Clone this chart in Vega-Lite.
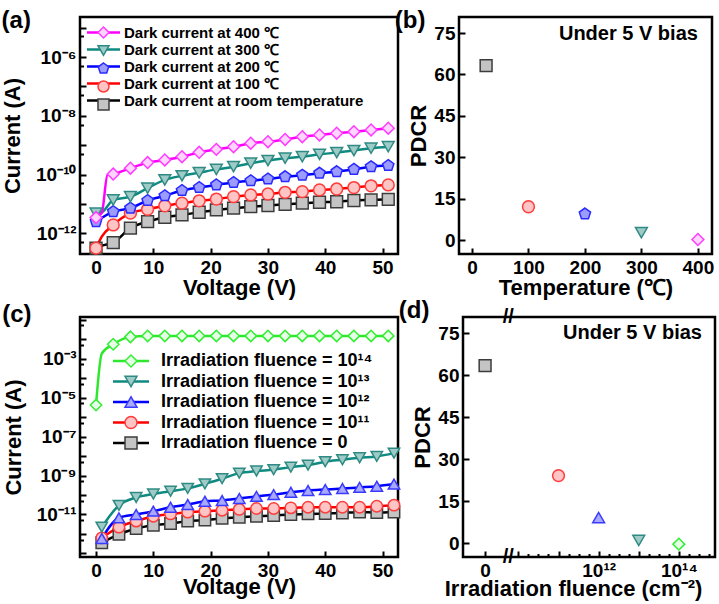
{
  "$schema": "https://vega.github.io/schema/vega-lite/v6.json",
  "padding": {"left": 0, "top": 7, "right": 0, "bottom": 0},
  "background": "white",
  "config": {
    "font": "Liberation Sans",
    "view": {"stroke": "#000", "strokeWidth": 2.5},
    "axis": {"domain": false, "grid": false, "labelFont": "Liberation Sans", "labelFontWeight": "bold", "labelFontSize": 19, "labelColor": "#000", "titleFont": "Liberation Sans", "titleFontSize": 22, "titleFontWeight": "bold", "titleColor": "#000", "tickColor": "#000", "tickWidth": 2, "labelFlush": false, "labelOverlap": false},
    "axisX": {"labelPadding": 10, "titlePadding": 0},
    "axisY": {"labelPadding": 10, "titlePadding": 3},
    "title": {"font": "Liberation Sans", "fontSize": 24, "fontWeight": "bold", "color": "#000", "anchor": "start", "frame": "bounds", "baseline": "alphabetic", "offset": -16},
    "legend": {"labelFont": "Liberation Sans", "labelFontWeight": "bold", "labelColor": "#000", "padding": 0, "title": null, "labelLimit": 0}
  },
  "datasets": {
    "a": [
      {"s": "room temperature", "V": 0, "I": 3.16e-13}, {"s": "room temperature", "V": 1, "I": 3.8e-13}, {"s": "room temperature", "V": 3, "I": 4.9e-13}, {"s": "room temperature", "V": 6, "I": 1.51e-12}, {"s": "room temperature", "V": 9, "I": 2.51e-12}, {"s": "room temperature", "V": 12, "I": 3.55e-12}, {"s": "room temperature", "V": 15, "I": 4.27e-12}, {"s": "room temperature", "V": 18, "I": 5.25e-12}, {"s": "room temperature", "V": 21, "I": 6.31e-12}, {"s": "room temperature", "V": 24, "I": 7.24e-12}, {"s": "room temperature", "V": 27, "I": 8.13e-12}, {"s": "room temperature", "V": 30, "I": 8.91e-12}, {"s": "room temperature", "V": 33, "I": 9.77e-12}, {"s": "room temperature", "V": 36, "I": 1.07e-11}, {"s": "room temperature", "V": 39, "I": 1.15e-11}, {"s": "room temperature", "V": 42, "I": 1.2e-11}, {"s": "room temperature", "V": 45, "I": 1.32e-11}, {"s": "room temperature", "V": 48, "I": 1.38e-11}, {"s": "room temperature", "V": 51, "I": 1.45e-11},
      {"s": "100 ℃", "V": 0, "I": 3.16e-13}, {"s": "100 ℃", "V": 1, "I": 7.76e-13}, {"s": "100 ℃", "V": 3, "I": 1.95e-12}, {"s": "100 ℃", "V": 6, "I": 4.9e-12}, {"s": "100 ℃", "V": 9, "I": 6.61e-12}, {"s": "100 ℃", "V": 12, "I": 8.71e-12}, {"s": "100 ℃", "V": 15, "I": 1.07e-11}, {"s": "100 ℃", "V": 18, "I": 1.29e-11}, {"s": "100 ℃", "V": 21, "I": 1.48e-11}, {"s": "100 ℃", "V": 24, "I": 1.78e-11}, {"s": "100 ℃", "V": 27, "I": 2.04e-11}, {"s": "100 ℃", "V": 30, "I": 2.19e-11}, {"s": "100 ℃", "V": 33, "I": 2.51e-11}, {"s": "100 ℃", "V": 36, "I": 2.63e-11}, {"s": "100 ℃", "V": 39, "I": 3.02e-11}, {"s": "100 ℃", "V": 42, "I": 3.24e-11}, {"s": "100 ℃", "V": 45, "I": 3.63e-11}, {"s": "100 ℃", "V": 48, "I": 4.17e-11}, {"s": "100 ℃", "V": 51, "I": 4.47e-11},
      {"s": "200 ℃", "V": 0, "I": 2.51e-12}, {"s": "200 ℃", "V": 3, "I": 5.5e-12}, {"s": "200 ℃", "V": 6, "I": 7.24e-12}, {"s": "200 ℃", "V": 9, "I": 1.32e-11}, {"s": "200 ℃", "V": 12, "I": 1.91e-11}, {"s": "200 ℃", "V": 15, "I": 2.88e-11}, {"s": "200 ℃", "V": 18, "I": 3.63e-11}, {"s": "200 ℃", "V": 21, "I": 4.47e-11}, {"s": "200 ℃", "V": 24, "I": 5.37e-11}, {"s": "200 ℃", "V": 27, "I": 6.17e-11}, {"s": "200 ℃", "V": 30, "I": 7.08e-11}, {"s": "200 ℃", "V": 33, "I": 8.51e-11}, {"s": "200 ℃", "V": 36, "I": 9.55e-11}, {"s": "200 ℃", "V": 39, "I": 1.12e-10}, {"s": "200 ℃", "V": 42, "I": 1.26e-10}, {"s": "200 ℃", "V": 45, "I": 1.51e-10}, {"s": "200 ℃", "V": 48, "I": 1.86e-10}, {"s": "200 ℃", "V": 51, "I": 2.04e-10},
      {"s": "300 ℃", "V": 0, "I": 4.9e-12}, {"s": "300 ℃", "V": 1, "I": 5.25e-12}, {"s": "300 ℃", "V": 3, "I": 1.38e-11}, {"s": "300 ℃", "V": 6, "I": 1.78e-11}, {"s": "300 ℃", "V": 9, "I": 3.47e-11}, {"s": "300 ℃", "V": 12, "I": 6.61e-11}, {"s": "300 ℃", "V": 15, "I": 9.12e-11}, {"s": "300 ℃", "V": 18, "I": 1.17e-10}, {"s": "300 ℃", "V": 21, "I": 1.51e-10}, {"s": "300 ℃", "V": 24, "I": 1.86e-10}, {"s": "300 ℃", "V": 27, "I": 2.45e-10}, {"s": "300 ℃", "V": 30, "I": 3.02e-10}, {"s": "300 ℃", "V": 33, "I": 3.63e-10}, {"s": "300 ℃", "V": 36, "I": 4.07e-10}, {"s": "300 ℃", "V": 39, "I": 4.9e-10}, {"s": "300 ℃", "V": 42, "I": 5.62e-10}, {"s": "300 ℃", "V": 45, "I": 6.61e-10}, {"s": "300 ℃", "V": 48, "I": 7.94e-10}, {"s": "300 ℃", "V": 51, "I": 8.91e-10},
      {"s": "400 ℃", "V": 0, "I": 3.47e-12}, {"s": "400 ℃", "V": 1, "I": 5.0e-12}, {"s": "400 ℃", "V": 2, "I": 9.8e-11}, {"s": "400 ℃", "V": 3, "I": 1.05e-10}, {"s": "400 ℃", "V": 6, "I": 1.66e-10}, {"s": "400 ℃", "V": 9, "I": 2.57e-10}, {"s": "400 ℃", "V": 12, "I": 3.16e-10}, {"s": "400 ℃", "V": 15, "I": 4.07e-10}, {"s": "400 ℃", "V": 18, "I": 5.75e-10}, {"s": "400 ℃", "V": 21, "I": 7.24e-10}, {"s": "400 ℃", "V": 24, "I": 8.91e-10}, {"s": "400 ℃", "V": 27, "I": 1.17e-9}, {"s": "400 ℃", "V": 30, "I": 1.32e-9}, {"s": "400 ℃", "V": 33, "I": 1.58e-9}, {"s": "400 ℃", "V": 36, "I": 1.95e-9}, {"s": "400 ℃", "V": 39, "I": 2.24e-9}, {"s": "400 ℃", "V": 42, "I": 2.57e-9}, {"s": "400 ℃", "V": 45, "I": 2.88e-9}, {"s": "400 ℃", "V": 48, "I": 3.31e-9}, {"s": "400 ℃", "V": 51, "I": 3.8e-9}
    ],
    "b": [
      {"s": "room temperature", "T": 25, "PDCR": 63.2}, {"s": "100 ℃", "T": 100, "PDCR": 12.1}, {"s": "200 ℃", "T": 200, "PDCR": 9.5}, {"s": "300 ℃", "T": 300, "PDCR": 2.7}, {"s": "400 ℃", "T": 400, "PDCR": 0.25}
    ],
    "c": [
      {"s": "0", "V": 1, "I": 3.55e-13}, {"s": "0", "V": 4, "I": 9.5e-13}, {"s": "0", "V": 7, "I": 1.91e-12}, {"s": "0", "V": 10, "I": 2.82e-12}, {"s": "0", "V": 13, "I": 3.47e-12}, {"s": "0", "V": 16, "I": 4.57e-12}, {"s": "0", "V": 19, "I": 5.13e-12}, {"s": "0", "V": 22, "I": 6.31e-12}, {"s": "0", "V": 25, "I": 7.24e-12}, {"s": "0", "V": 28, "I": 8.13e-12}, {"s": "0", "V": 31, "I": 8.91e-12}, {"s": "0", "V": 34, "I": 1.0e-11}, {"s": "0", "V": 37, "I": 1.07e-11}, {"s": "0", "V": 40, "I": 1.12e-11}, {"s": "0", "V": 43, "I": 1.2e-11}, {"s": "0", "V": 46, "I": 1.32e-11}, {"s": "0", "V": 49, "I": 1.25e-11}, {"s": "0", "V": 52, "I": 1.35e-11},
      {"s": "10¹¹", "V": 1, "I": 6.3e-13}, {"s": "10¹¹", "V": 4, "I": 2.24e-12}, {"s": "10¹¹", "V": 7, "I": 4.57e-12}, {"s": "10¹¹", "V": 10, "I": 8.13e-12}, {"s": "10¹¹", "V": 13, "I": 1.07e-11}, {"s": "10¹¹", "V": 16, "I": 1.32e-11}, {"s": "10¹¹", "V": 19, "I": 1.48e-11}, {"s": "10¹¹", "V": 22, "I": 1.66e-11}, {"s": "10¹¹", "V": 25, "I": 1.82e-11}, {"s": "10¹¹", "V": 28, "I": 2.04e-11}, {"s": "10¹¹", "V": 31, "I": 2.04e-11}, {"s": "10¹¹", "V": 34, "I": 2.19e-11}, {"s": "10¹¹", "V": 37, "I": 2.34e-11}, {"s": "10¹¹", "V": 40, "I": 2.34e-11}, {"s": "10¹¹", "V": 43, "I": 2.34e-11}, {"s": "10¹¹", "V": 46, "I": 2.34e-11}, {"s": "10¹¹", "V": 49, "I": 2.63e-11}, {"s": "10¹¹", "V": 52, "I": 3.02e-11},
      {"s": "10¹²", "V": 1, "I": 5.9e-13}, {"s": "10¹²", "V": 4, "I": 6.7e-12}, {"s": "10¹²", "V": 7, "I": 1.0e-11}, {"s": "10¹²", "V": 10, "I": 1.48e-11}, {"s": "10¹²", "V": 13, "I": 2.34e-11}, {"s": "10¹²", "V": 16, "I": 3.24e-11}, {"s": "10¹²", "V": 19, "I": 4.79e-11}, {"s": "10¹²", "V": 22, "I": 5.25e-11}, {"s": "10¹²", "V": 25, "I": 6.61e-11}, {"s": "10¹²", "V": 28, "I": 8.51e-11}, {"s": "10¹²", "V": 31, "I": 1.05e-10}, {"s": "10¹²", "V": 34, "I": 1.38e-10}, {"s": "10¹²", "V": 37, "I": 1.7e-10}, {"s": "10¹²", "V": 40, "I": 1.91e-10}, {"s": "10¹²", "V": 43, "I": 2.14e-10}, {"s": "10¹²", "V": 46, "I": 2.45e-10}, {"s": "10¹²", "V": 49, "I": 2.82e-10}, {"s": "10¹²", "V": 52, "I": 3.63e-10},
      {"s": "10¹³", "V": 1, "I": 2.24e-12}, {"s": "10¹³", "V": 4, "I": 2.95e-11}, {"s": "10¹³", "V": 7, "I": 7.4e-11}, {"s": "10¹³", "V": 10, "I": 1.12e-10}, {"s": "10¹³", "V": 13, "I": 1.55e-10}, {"s": "10¹³", "V": 16, "I": 2.19e-10}, {"s": "10¹³", "V": 19, "I": 3.72e-10}, {"s": "10¹³", "V": 22, "I": 6.9e-10}, {"s": "10¹³", "V": 25, "I": 1.32e-9}, {"s": "10¹³", "V": 28, "I": 1.7e-9}, {"s": "10¹³", "V": 31, "I": 2.0e-9}, {"s": "10¹³", "V": 34, "I": 2.69e-9}, {"s": "10¹³", "V": 37, "I": 3.39e-9}, {"s": "10¹³", "V": 40, "I": 5.13e-9}, {"s": "10¹³", "V": 43, "I": 6.46e-9}, {"s": "10¹³", "V": 46, "I": 8.13e-9}, {"s": "10¹³", "V": 49, "I": 9.55e-9}, {"s": "10¹³", "V": 52, "I": 1.41e-8},
      {"s": "10¹⁴", "V": 0, "I": 4.1e-6}, {"s": "10¹⁴", "V": 1, "I": 1.78e-3}, {"s": "10¹⁴", "V": 3, "I": 5.4e-3}, {"s": "10¹⁴", "V": 6, "I": 0.0129}, {"s": "10¹⁴", "V": 9, "I": 0.0144}, {"s": "10¹⁴", "V": 12, "I": 0.0145}, {"s": "10¹⁴", "V": 15, "I": 0.0145}, {"s": "10¹⁴", "V": 18, "I": 0.0145}, {"s": "10¹⁴", "V": 21, "I": 0.0145}, {"s": "10¹⁴", "V": 24, "I": 0.0145}, {"s": "10¹⁴", "V": 27, "I": 0.0145}, {"s": "10¹⁴", "V": 30, "I": 0.0145}, {"s": "10¹⁴", "V": 33, "I": 0.0145}, {"s": "10¹⁴", "V": 36, "I": 0.0145}, {"s": "10¹⁴", "V": 39, "I": 0.0145}, {"s": "10¹⁴", "V": 42, "I": 0.0145}, {"s": "10¹⁴", "V": 45, "I": 0.0145}, {"s": "10¹⁴", "V": 48, "I": 0.0145}, {"s": "10¹⁴", "V": 51, "I": 0.0145}
    ],
    "d": [
      {"s": "0", "F": 0, "PDCR": 63.4}, {"s": "10¹¹", "F": 1e11, "PDCR": 24.1}, {"s": "10¹²", "F": 1e12, "PDCR": 9.1}, {"s": "10¹³", "F": 1e13, "PDCR": 0.9}, {"s": "10¹⁴", "F": 1e14, "PDCR": -0.4}
    ]
  },
  "spacing": -3,
  "resolve": {"scale": {"color": "independent", "shape": "independent", "fill": "independent", "stroke": "independent"}, "legend": {"color": "independent", "shape": "independent", "fill": "independent", "stroke": "independent"}},
  "vconcat": [
    {
      "spacing": -7,
      "resolve": {"scale": {"color": "independent", "shape": "independent", "fill": "independent", "stroke": "independent"}, "legend": {"color": "independent", "shape": "independent", "fill": "independent", "stroke": "independent"}},
      "hconcat": [
        {
          "width": 318, "height": 237,
          "title": {"text": "(a)"},
          "data": {"name": "a"},
          "layer": [
            {
              "mark": {"type": "line", "interpolate": "monotone", "strokeWidth": 2.5},
              "encoding": {
                "x": {"field": "V", "type": "quantitative", "scale": {"domain": [-2.8, 52.7], "nice": false, "zero": false},
                  "axis": {"title": "Voltage (V)", "values": [0, 5, 10, 15, 20, 25, 30, 35, 40, 45, 50], "labelExpr": "datum.value % 10 === 0 ? datum.label : ''", "tickSize": {"condition": {"test": "datum.value % 10 === 0", "value": -6}, "value": -3.5}}},
                "y": {"field": "I", "type": "quantitative", "scale": {"type": "log", "domain": [2.0e-13, 2.3e-5], "nice": false},
                  "axis": {"title": "Current (A)", "titlePadding": 11, "values": [5e-13, 1e-12, 5e-12, 1e-11, 5e-11, 1e-10, 5e-10, 1e-9, 5e-9, 1e-8, 5e-8, 1e-7, 5e-7, 1e-6, 5e-6, 1e-5],
                    "labelExpr": "datum.value === 1e-6 ? '10⁻⁶' : datum.value === 1e-8 ? '10⁻⁸' : datum.value === 1e-10 ? '10⁻¹⁰' : datum.value === 1e-12 ? '10⁻¹²' : ''",
                    "tickSize": {"condition": {"test": "abs(log(datum.value)/LN10 - round(log(datum.value)/LN10)) < 0.01", "value": -6}, "value": -3.5}}},
                "color": {"field": "s", "type": "nominal",
                  "scale": {"domain": ["room temperature", "100 ℃", "200 ℃", "300 ℃", "400 ℃"], "range": ["#000000", "#ff0000", "#0000ff", "#0f8a80", "#ff00ff"]},
                  "legend": {"orient": "none", "legendX": 16, "legendY": 8, "values": ["400 ℃", "300 ℃", "200 ℃", "100 ℃", "room temperature"], "symbolType": "M-3,0L3,0", "symbolSize": 121, "symbolStrokeWidth": 2.5, "labelFontSize": 15, "labelOffset": 13, "rowPadding": 1, "zindex": 0, "labelExpr": "'Dark current at ' + datum.label"}}
              }
            },
            {
              "transform": [{"filter": "datum.V % 3 === 0"}],
              "mark": {"type": "point", "filled": true, "opacity": 1, "size": 140, "strokeWidth": 1.5},
              "encoding": {
                "x": {"field": "V", "type": "quantitative"},
                "y": {"field": "I", "type": "quantitative"},
                "shape": {"field": "s", "type": "nominal",
                  "scale": {"domain": ["400 ℃", "300 ℃", "200 ℃", "100 ℃", "room temperature"], "range": ["diamond", "triangle-down", "M0,-1L0.951,-0.309L0.588,0.809L-0.588,0.809L-0.951,-0.309Z", "circle", "square"]},
                  "legend": {"orient": "none", "legendX": 16, "legendY": 8, "symbolSize": 121, "symbolStrokeWidth": 1.5, "labelFontSize": 15, "labelOffset": 13, "rowPadding": 1, "zindex": 1, "labelExpr": "''"}},
                "fill": {"field": "s", "type": "nominal",
                  "scale": {"domain": ["400 ℃", "300 ℃", "200 ℃", "100 ℃", "room temperature"], "range": ["#ffd4ff", "#9fcbc7", "#9c9cff", "#ffc4c4", "#c4c4c4"]},
                  "legend": {"orient": "none", "legendX": 16, "legendY": 8, "symbolSize": 121, "symbolStrokeWidth": 1.5, "labelFontSize": 15, "labelOffset": 13, "rowPadding": 1, "zindex": 1, "labelExpr": "''"}},
                "stroke": {"field": "s", "type": "nominal",
                  "scale": {"domain": ["400 ℃", "300 ℃", "200 ℃", "100 ℃", "room temperature"], "range": ["#ff3cff", "#2f8a84", "#2a2aff", "#ff3c3c", "#3c3c3c"]},
                  "legend": {"orient": "none", "legendX": 16, "legendY": 8, "symbolSize": 121, "symbolStrokeWidth": 1.5, "labelFontSize": 15, "labelOffset": 13, "rowPadding": 1, "zindex": 1, "labelExpr": "''"}}
              }
            }
          ]
        },
        {
          "width": 253, "height": 237,
          "title": {"text": "(b)", "dx": -13},
          "layer": [
            {
              "data": {"name": "b"},
              "mark": {"type": "point", "filled": true, "opacity": 1, "size": 140, "strokeWidth": 1.5},
              "encoding": {
                "x": {"field": "T", "type": "quantitative", "scale": {"domain": [-23, 425], "nice": false, "zero": false},
                  "axis": {"title": "Temperature (℃)", "values": [0, 100, 200, 300, 400], "tickSize": -6}},
                "y": {"field": "PDCR", "type": "quantitative", "scale": {"domain": [-5, 80.8], "nice": false, "zero": false},
                  "axis": {"title": "PDCR", "values": [0, 7.5, 15, 22.5, 30, 37.5, 45, 52.5, 60, 67.5, 75], "labelExpr": "datum.value % 15 === 0 ? datum.label : ''", "tickSize": {"condition": {"test": "datum.value % 15 === 0", "value": -6}, "value": -3.5}}},
                "shape": {"field": "s", "type": "nominal", "scale": {"domain": ["400 ℃", "300 ℃", "200 ℃", "100 ℃", "room temperature"], "range": ["diamond", "triangle-down", "M0,-1L0.951,-0.309L0.588,0.809L-0.588,0.809L-0.951,-0.309Z", "circle", "square"]}, "legend": null},
                "fill": {"field": "s", "type": "nominal", "scale": {"domain": ["400 ℃", "300 ℃", "200 ℃", "100 ℃", "room temperature"], "range": ["#ffd4ff", "#9fcbc7", "#9c9cff", "#ffc4c4", "#c4c4c4"]}, "legend": null},
                "stroke": {"field": "s", "type": "nominal", "scale": {"domain": ["400 ℃", "300 ℃", "200 ℃", "100 ℃", "room temperature"], "range": ["#ff3cff", "#2f8a84", "#2a2aff", "#ff3c3c", "#3c3c3c"]}, "legend": null}
              }
            },
            {
              "data": {"values": [{}]},
              "mark": {"type": "text", "align": "right", "baseline": "alphabetic", "font": "Liberation Sans", "fontSize": 20, "fontWeight": "bold", "color": "#000"},
              "encoding": {"x": {"datum": 400, "type": "quantitative"}, "y": {"datum": 72.6, "type": "quantitative"}, "text": {"value": "Under 5 V bias"}}
            }
          ]
        }
      ]
    },
    {
      "spacing": -7,
      "resolve": {"scale": {"color": "independent", "shape": "independent", "fill": "independent", "stroke": "independent"}, "legend": {"color": "independent", "shape": "independent", "fill": "independent", "stroke": "independent"}},
      "hconcat": [
        {
          "width": 318, "height": 240,
          "title": {"text": "(c)"},
          "data": {"name": "c"},
          "layer": [
            {
              "mark": {"type": "line", "interpolate": "monotone", "strokeWidth": 2.5},
              "encoding": {
                "x": {"field": "V", "type": "quantitative", "scale": {"domain": [-2.8, 52.7], "nice": false, "zero": false},
                  "axis": {"title": "Voltage (V)", "titlePadding": -4, "values": [0, 5, 10, 15, 20, 25, 30, 35, 40, 45, 50], "labelExpr": "datum.value % 10 === 0 ? datum.label : ''", "tickSize": {"condition": {"test": "datum.value % 10 === 0", "value": -6}, "value": -3.5}}},
                "y": {"field": "I", "type": "quantitative", "scale": {"type": "log", "domain": [6.6e-14, 0.135], "nice": false},
                  "axis": {"title": "Current (A)", "titlePadding": 11, "values": [1e-13, 5e-13, 1e-12, 5e-12, 1e-11, 5e-11, 1e-10, 5e-10, 1e-9, 5e-9, 1e-8, 5e-8, 1e-7, 5e-7, 1e-6, 5e-6, 1e-5, 5e-5, 1e-4, 5e-4, 1e-3, 5e-3, 1e-2, 5e-2, 1e-1],
                    "labelExpr": "datum.value === 1e-3 ? '10⁻³' : datum.value === 1e-5 ? '10⁻⁵' : datum.value === 1e-7 ? '10⁻⁷' : datum.value === 1e-9 ? '10⁻⁹' : datum.value === 1e-11 ? '10⁻¹¹' : ''",
                    "tickSize": {"condition": {"test": "abs(log(datum.value)/LN10 - round(log(datum.value)/LN10)) < 0.01", "value": -6}, "value": -3.5}}},
                "color": {"field": "s", "type": "nominal",
                  "scale": {"domain": ["0", "10¹¹", "10¹²", "10¹³", "10¹⁴"], "range": ["#000000", "#ff0000", "#0000ff", "#0f8a80", "#2ee82e"]},
                  "legend": {"orient": "none", "legendX": 42, "legendY": 35, "values": ["10¹⁴", "10¹³", "10¹²", "10¹¹", "0"], "symbolType": "M-3,0L3,0", "symbolSize": 144, "symbolStrokeWidth": 2.5, "labelFontSize": 18, "labelOffset": 21, "rowPadding": 2.5, "zindex": 0, "labelExpr": "'Irradiation fluence = ' + datum.label"}}
              }
            },
            {
              "transform": [{"filter": "datum.s === '10¹⁴' ? datum.V % 3 === 0 : datum.V % 3 === 1"}],
              "mark": {"type": "point", "filled": true, "opacity": 1, "size": 130, "strokeWidth": 1.5},
              "encoding": {
                "x": {"field": "V", "type": "quantitative"},
                "y": {"field": "I", "type": "quantitative"},
                "shape": {"field": "s", "type": "nominal",
                  "scale": {"domain": ["10¹⁴", "10¹³", "10¹²", "10¹¹", "0"], "range": ["diamond", "triangle-down", "triangle-up", "circle", "square"]},
                  "legend": {"orient": "none", "legendX": 42, "legendY": 35, "symbolSize": 144, "symbolStrokeWidth": 1.5, "labelFontSize": 18, "labelOffset": 21, "rowPadding": 2.5, "zindex": 1, "labelExpr": "''"}},
                "fill": {"field": "s", "type": "nominal",
                  "scale": {"domain": ["10¹⁴", "10¹³", "10¹²", "10¹¹", "0"], "range": ["#e6ffe6", "#9fcbc7", "#a8a8ff", "#ffc4c4", "#c4c4c4"]},
                  "legend": {"orient": "none", "legendX": 42, "legendY": 35, "symbolSize": 144, "symbolStrokeWidth": 1.5, "labelFontSize": 18, "labelOffset": 21, "rowPadding": 2.5, "zindex": 1, "labelExpr": "''"}},
                "stroke": {"field": "s", "type": "nominal",
                  "scale": {"domain": ["10¹⁴", "10¹³", "10¹²", "10¹¹", "0"], "range": ["#33ee33", "#2f8a84", "#3a3aff", "#ff3c3c", "#3c3c3c"]},
                  "legend": {"orient": "none", "legendX": 42, "legendY": 35, "symbolSize": 144, "symbolStrokeWidth": 1.5, "labelFontSize": 18, "labelOffset": 21, "rowPadding": 2.5, "zindex": 1, "labelExpr": "''"}}
              }
            }
          ]
        },
        {
          "width": 252, "height": 240,
          "title": {"text": "(d)", "dx": -13},
          "resolve": {"scale": {"x": "independent"}, "axis": {"x": "independent"}},
          "layer": [
            {
              "data": {"name": "d"},
              "transform": [{"filter": "datum.F === 0"}],
              "mark": {"type": "point", "filled": true, "opacity": 1, "size": 140, "strokeWidth": 1.5},
              "encoding": {
                "x": {"field": "F", "type": "quantitative", "scale": {"domain": [-1, 10.41], "nice": false, "zero": false},
                  "axis": {"orient": "bottom", "title": null, "values": [0], "tickSize": -6}},
                "y": {"field": "PDCR", "type": "quantitative", "scale": {"domain": [-5, 80.8], "nice": false, "zero": false},
                  "axis": {"title": "PDCR", "values": [0, 7.5, 15, 22.5, 30, 37.5, 45, 52.5, 60, 67.5, 75], "labelExpr": "datum.value % 15 === 0 ? datum.label : ''", "tickSize": {"condition": {"test": "datum.value % 15 === 0", "value": -6}, "value": -3.5}}},
                "shape": {"field": "s", "type": "nominal", "scale": {"domain": ["10¹⁴", "10¹³", "10¹²", "10¹¹", "0"], "range": ["diamond", "triangle-down", "triangle-up", "circle", "square"]}, "legend": null},
                "fill": {"field": "s", "type": "nominal", "scale": {"domain": ["10¹⁴", "10¹³", "10¹²", "10¹¹", "0"], "range": ["#e6ffe6", "#9fcbc7", "#a8a8ff", "#ffc4c4", "#c4c4c4"]}, "legend": null},
                "stroke": {"field": "s", "type": "nominal", "scale": {"domain": ["10¹⁴", "10¹³", "10¹²", "10¹¹", "0"], "range": ["#33ee33", "#2f8a84", "#3a3aff", "#ff3c3c", "#3c3c3c"]}, "legend": null}
              }
            },
            {
              "data": {"name": "d"},
              "transform": [{"filter": "datum.F > 0"}],
              "mark": {"type": "point", "filled": true, "opacity": 1, "size": 140, "strokeWidth": 1.5},
              "encoding": {
                "x": {"field": "F", "type": "quantitative", "scale": {"type": "log", "domain": [4.17e8, 7.94e14], "nice": false},
                  "axis": {"orient": "bottom", "title": "Irradiation fluence (cm⁻²)", "titlePadding": -4, "titleX": 110, "values": [1e10, 1.7783e10, 3.1623e10, 5.6234e10, 1e11, 1.7783e11, 3.1623e11, 5.6234e11, 1e12, 1.7783e12, 3.1623e12, 5.6234e12, 1e13, 1.7783e13, 3.1623e13, 5.6234e13, 1e14, 1.7783e14, 3.1623e14, 5.6234e14],
                    "labelExpr": "datum.value === 1e12 ? '10¹²' : datum.value === 1e14 ? '10¹⁴' : ''",
                    "tickSize": {"condition": {"test": "abs(log(datum.value)/LN10 - round(log(datum.value)/LN10)) < 0.01", "value": -6}, "value": -3.5}}},
                "y": {"field": "PDCR", "type": "quantitative"},
                "shape": {"field": "s", "type": "nominal", "scale": {"domain": ["10¹⁴", "10¹³", "10¹²", "10¹¹", "0"], "range": ["diamond", "triangle-down", "triangle-up", "circle", "square"]}, "legend": null},
                "fill": {"field": "s", "type": "nominal", "scale": {"domain": ["10¹⁴", "10¹³", "10¹²", "10¹¹", "0"], "range": ["#e6ffe6", "#9fcbc7", "#a8a8ff", "#ffc4c4", "#c4c4c4"]}, "legend": null},
                "stroke": {"field": "s", "type": "nominal", "scale": {"domain": ["10¹⁴", "10¹³", "10¹²", "10¹¹", "0"], "range": ["#33ee33", "#2f8a84", "#3a3aff", "#ff3c3c", "#3c3c3c"]}, "legend": null}
              }
            },
            {
              "data": {"values": [{}]},
              "mark": {"type": "text", "align": "center", "baseline": "middle", "font": "Liberation Sans", "fontSize": 20, "fontWeight": "bold", "color": "#000"},
              "encoding": {"x": {"datum": 1.05, "type": "quantitative", "scale": {"domain": [-1, 10.41], "nice": false, "zero": false}, "axis": null}, "y": {"datum": 80.8, "type": "quantitative"}, "text": {"value": "//"}}
            },
            {
              "data": {"values": [{}]},
              "mark": {"type": "text", "align": "center", "baseline": "middle", "font": "Liberation Sans", "fontSize": 20, "fontWeight": "bold", "color": "#000"},
              "encoding": {"x": {"datum": 1.05, "type": "quantitative", "scale": {"domain": [-1, 10.41], "nice": false, "zero": false}, "axis": null}, "y": {"datum": -5, "type": "quantitative"}, "text": {"value": "//"}}
            },
            {
              "data": {"values": [{}]},
              "mark": {"type": "text", "align": "right", "baseline": "alphabetic", "font": "Liberation Sans", "fontSize": 20, "fontWeight": "bold", "color": "#000"},
              "encoding": {"x": {"datum": 9.82, "type": "quantitative", "scale": {"domain": [-1, 10.41], "nice": false, "zero": false}, "axis": null}, "y": {"datum": 72.9, "type": "quantitative"}, "text": {"value": "Under 5 V bias"}}
            }
          ]
        }
      ]
    }
  ]
}
